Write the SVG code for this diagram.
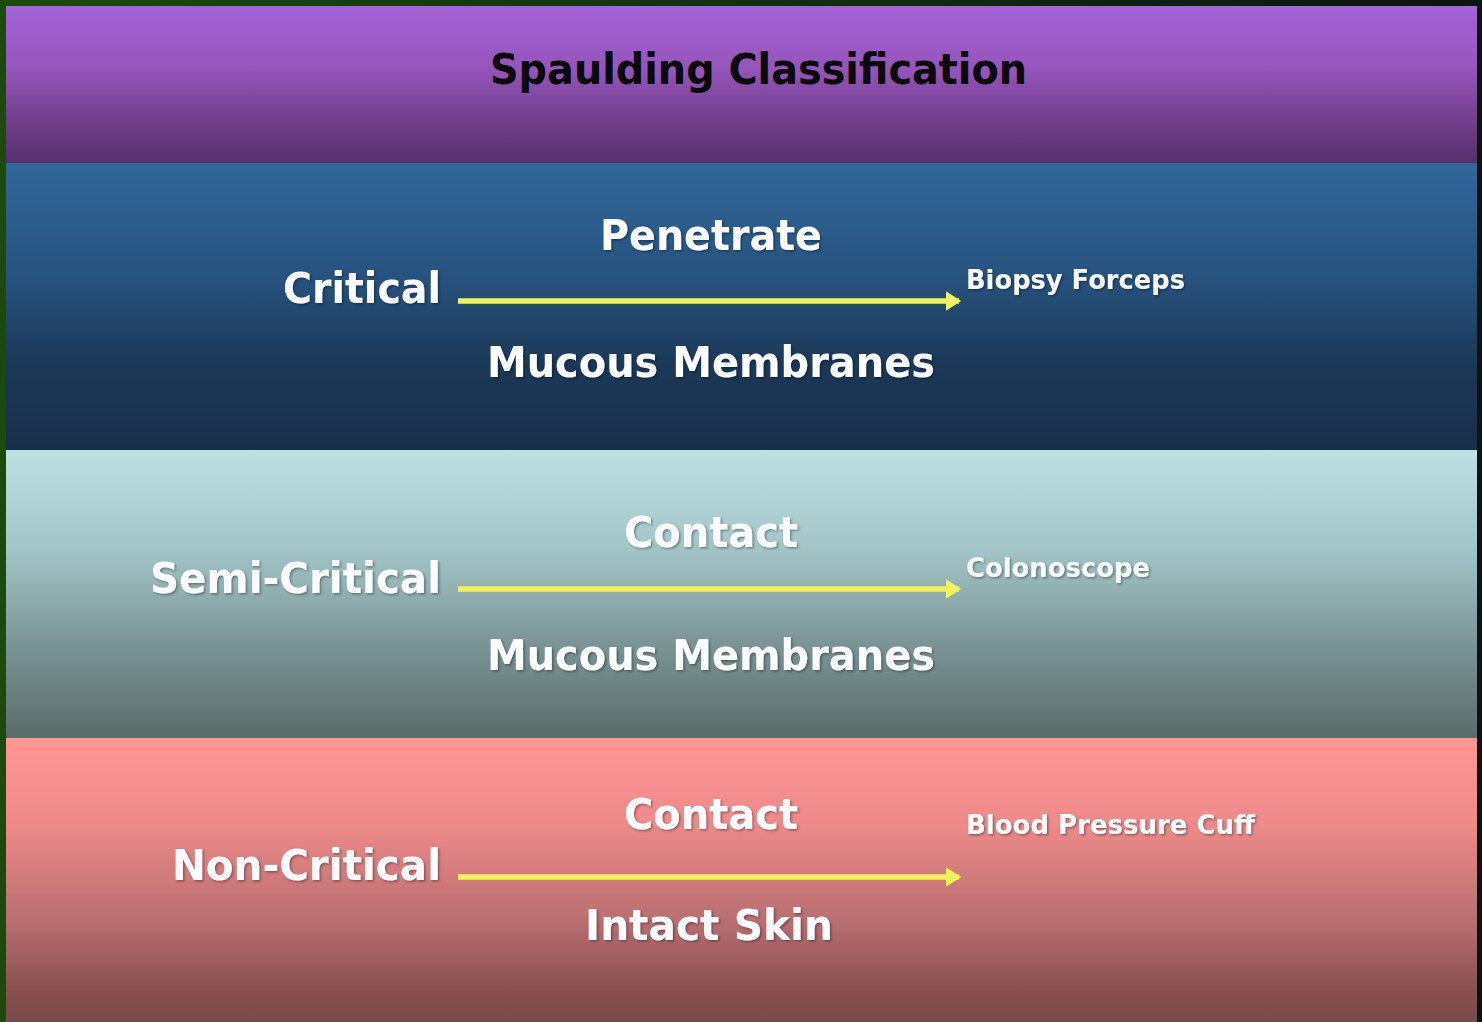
<svg xmlns="http://www.w3.org/2000/svg" width="1482" height="1022" viewBox="0 0 1482 1022">
<defs>
<linearGradient id="frame" x1="0" y1="0" x2="1" y2="0">
<stop offset="0" stop-color="#1c4a0c"/><stop offset="0.5" stop-color="#123010"/><stop offset="1" stop-color="#0c1410"/>
</linearGradient>
<linearGradient id="gTop" x1="0" y1="0" x2="0" y2="1">
<stop offset="0" stop-color="#a463d8"/><stop offset="0.4" stop-color="#9555bb"/><stop offset="0.7" stop-color="#74408f"/><stop offset="1" stop-color="#56306c"/>
</linearGradient>
<linearGradient id="gCrit" x1="0" y1="0" x2="0" y2="1">
<stop offset="0" stop-color="#31679a"/><stop offset="0.4" stop-color="#27527e"/><stop offset="0.7" stop-color="#1c3858"/><stop offset="1" stop-color="#182f4a"/>
</linearGradient>
<linearGradient id="gSemi" x1="0" y1="0" x2="0" y2="1">
<stop offset="0" stop-color="#bde1e3"/><stop offset="0.35" stop-color="#a2c4c6"/><stop offset="0.7" stop-color="#789192"/><stop offset="1" stop-color="#5a6c6a"/>
</linearGradient>
<linearGradient id="gNon" x1="0" y1="0" x2="0" y2="1">
<stop offset="0" stop-color="#ff9696"/><stop offset="0.3" stop-color="#ee8a8a"/><stop offset="0.65" stop-color="#b86e70"/><stop offset="0.88" stop-color="#8a5050"/><stop offset="1" stop-color="#794a4a"/>
</linearGradient>
<marker id="ah" markerWidth="4" markerHeight="4" refX="2.4" refY="2" orient="auto" markerUnits="strokeWidth">
<path d="M0,0.2 L2.8,2 L0,3.8 Z" fill="#f2f25a"/>
</marker>
<filter id="sh" x="-5%" y="-20%" width="110%" height="140%">
<feDropShadow dx="1.5" dy="1.5" stdDeviation="1" flood-color="#000" flood-opacity="0.35"/>
</filter>
</defs>
<style>
.t{font-family:"DejaVu Sans","Liberation Sans",sans-serif;font-weight:bold;fill:#fafcff}
.big{font-size:42px}
.small{font-size:27px}
.title{font-size:42px;fill:#0a0a0a}
.arrow{stroke:#f2f25a;stroke-width:5.5;fill:none}
</style>
<rect x="0" y="0" width="1482" height="1022" fill="url(#frame)"/>
<g id="header">
<rect x="6" y="6" width="1471" height="157" fill="url(#gTop)"/>
<text class="t title" x="490" y="84" textLength="537" lengthAdjust="spacingAndGlyphs">Spaulding Classification</text>
</g>
<g id="critical">
<rect x="6" y="163" width="1471" height="287" fill="url(#gCrit)"/>
<g filter="url(#sh)">
<text class="t big" x="600" y="250" textLength="222" lengthAdjust="spacingAndGlyphs">Penetrate</text>
<text class="t big" x="283" y="303" textLength="158" lengthAdjust="spacingAndGlyphs">Critical</text>
<text class="t big" x="487" y="377" textLength="448" lengthAdjust="spacingAndGlyphs">Mucous Membranes</text>
<text class="t small" x="966" y="289" textLength="219" lengthAdjust="spacingAndGlyphs">Biopsy Forceps</text>
</g>
</g>
<g id="semi-critical">
<rect x="6" y="450" width="1471" height="288" fill="url(#gSemi)"/>
<g filter="url(#sh)">
<text class="t big" x="624" y="547" textLength="174" lengthAdjust="spacingAndGlyphs">Contact</text>
<text class="t big" x="150" y="593" textLength="291" lengthAdjust="spacingAndGlyphs">Semi-Critical</text>
<text class="t big" x="487" y="670" textLength="448" lengthAdjust="spacingAndGlyphs">Mucous Membranes</text>
<text class="t small" x="966" y="577" textLength="184" lengthAdjust="spacingAndGlyphs">Colonoscope</text>
</g>
</g>
<g id="non-critical">
<rect x="6" y="738" width="1471" height="284" fill="url(#gNon)"/>
<g filter="url(#sh)">
<text class="t big" x="624" y="829" textLength="174" lengthAdjust="spacingAndGlyphs">Contact</text>
<text class="t big" x="172" y="880" textLength="269" lengthAdjust="spacingAndGlyphs">Non-Critical</text>
<text class="t big" x="585" y="940" textLength="248" lengthAdjust="spacingAndGlyphs">Intact Skin</text>
<text class="t small" x="966" y="834" textLength="289" lengthAdjust="spacingAndGlyphs">Blood Pressure Cuff</text>
</g>
</g>
<g id="connectors">
<line class="arrow" x1="458" y1="301" x2="959" y2="301" marker-end="url(#ah)"/>
<line class="arrow" x1="458" y1="589" x2="959" y2="589" marker-end="url(#ah)"/>
<line class="arrow" x1="458" y1="877" x2="959" y2="877" marker-end="url(#ah)"/>
</g>
</svg>
